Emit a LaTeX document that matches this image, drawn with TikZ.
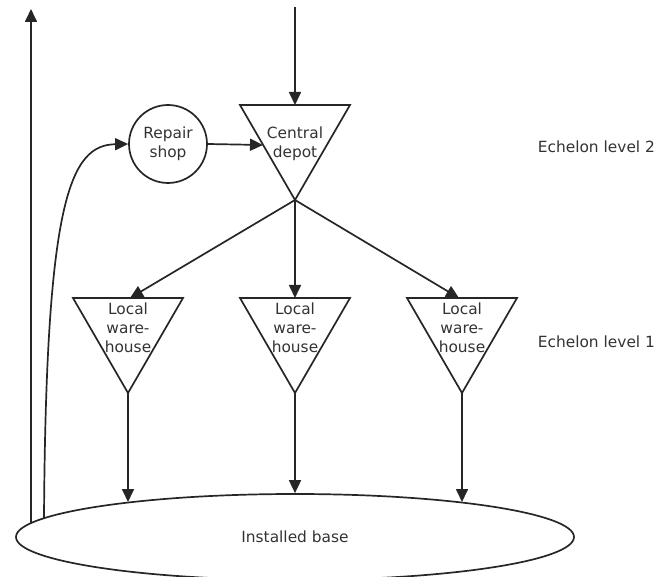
\documentclass[tikz,border=0pt]{standalone}
\usepackage{fontspec}
\setmainfont{DejaVu Sans}
\usetikzlibrary{arrows.meta,shapes.geometric}
\begin{document}
\begin{tikzpicture}[x=1pt,y=-1pt, line width=1.7pt, draw=black!85,
  >={Triangle[length=13pt,width=12pt]},
  lbl/.style={font=\fontsize{15.4}{19}\selectfont, align=center, inner sep=0pt, text=black!80},
  tri/.style={draw=black!85, line join=miter, line width=1.7pt},
  conn/.style={draw=black!85, ->, line width=1.7pt}]
\useasboundingbox (0,0) rectangle (667,577);

% Central depot
\coordinate (cdL) at (240,105);
\coordinate (cdR) at (350,105);
\coordinate (cdA) at (295,200);
\coordinate (cdT) at (295,105);
\coordinate (cdLe) at (263,145);
\draw[tri] (cdL) -- (cdR) -- (cdA) -- cycle;
\node[lbl] (cdtxt) at (295,144) {Central\\depot};

% input from top
\coordinate (in) at (295,7);
\draw[conn] (in) -- (cdT);

% Repair shop
\node[lbl, circle, draw=black!85, line width=1.7pt, minimum size=78pt] (rs) at (168,144) {Repair\\shop};
\draw[conn] (rs.east) -- (cdLe);

% Local warehouses
\coordinate (lwLl) at (73,298);  \coordinate (lwLr) at (183,298); \coordinate (lwLa) at (128,393); \coordinate (lwLt) at (130,298);
\coordinate (lwMl) at (240,298); \coordinate (lwMr) at (350,298); \coordinate (lwMa) at (295,393); \coordinate (lwMt) at (295,298);
\coordinate (lwRl) at (407,298); \coordinate (lwRr) at (517,298); \coordinate (lwRa) at (462,393); \coordinate (lwRt) at (459,298);
\draw[tri] (lwLl) -- (lwLr) -- (lwLa) -- cycle;
\draw[tri] (lwMl) -- (lwMr) -- (lwMa) -- cycle;
\draw[tri] (lwRl) -- (lwRr) -- (lwRa) -- cycle;
\node[lbl] (lwLtxt) at (128,328) {Local\\ware-\\house};
\node[lbl] (lwMtxt) at (295,328) {Local\\ware-\\house};
\node[lbl] (lwRtxt) at (462,328) {Local\\ware-\\house};

\draw[conn] (cdA) -- (lwLt);
\draw[conn] (cdA) -- (lwMt);
\draw[conn] (cdA) -- (lwRt);

% Installed base
\node[lbl, ellipse, draw=black!85, line width=1.7pt, minimum width=558pt, minimum height=86pt] (ib) at (295,537) {Installed base};
\coordinate (ibL) at (128,502);
\coordinate (ibR) at (462,502);
\coordinate (ibOut) at (31,523);
\coordinate (ibRep) at (44,518);
\draw[conn] (lwLa) -- (ibL);
\draw[conn] (lwMa) -- (ib.north);
\draw[conn] (lwRa) -- (ibR);

% return flows
\coordinate (outTop) at (31,9);
\draw[conn] (ibOut) -- (outTop);
\draw[conn] (ibRep) .. controls (46,200) and (70,145) .. (rs.west);

% Echelon labels
\node[lbl, anchor=west] (e2) at (537,147) {Echelon level 2};
\node[lbl, anchor=west] (e1) at (537,342) {Echelon level 1};
\end{tikzpicture}
\end{document}
